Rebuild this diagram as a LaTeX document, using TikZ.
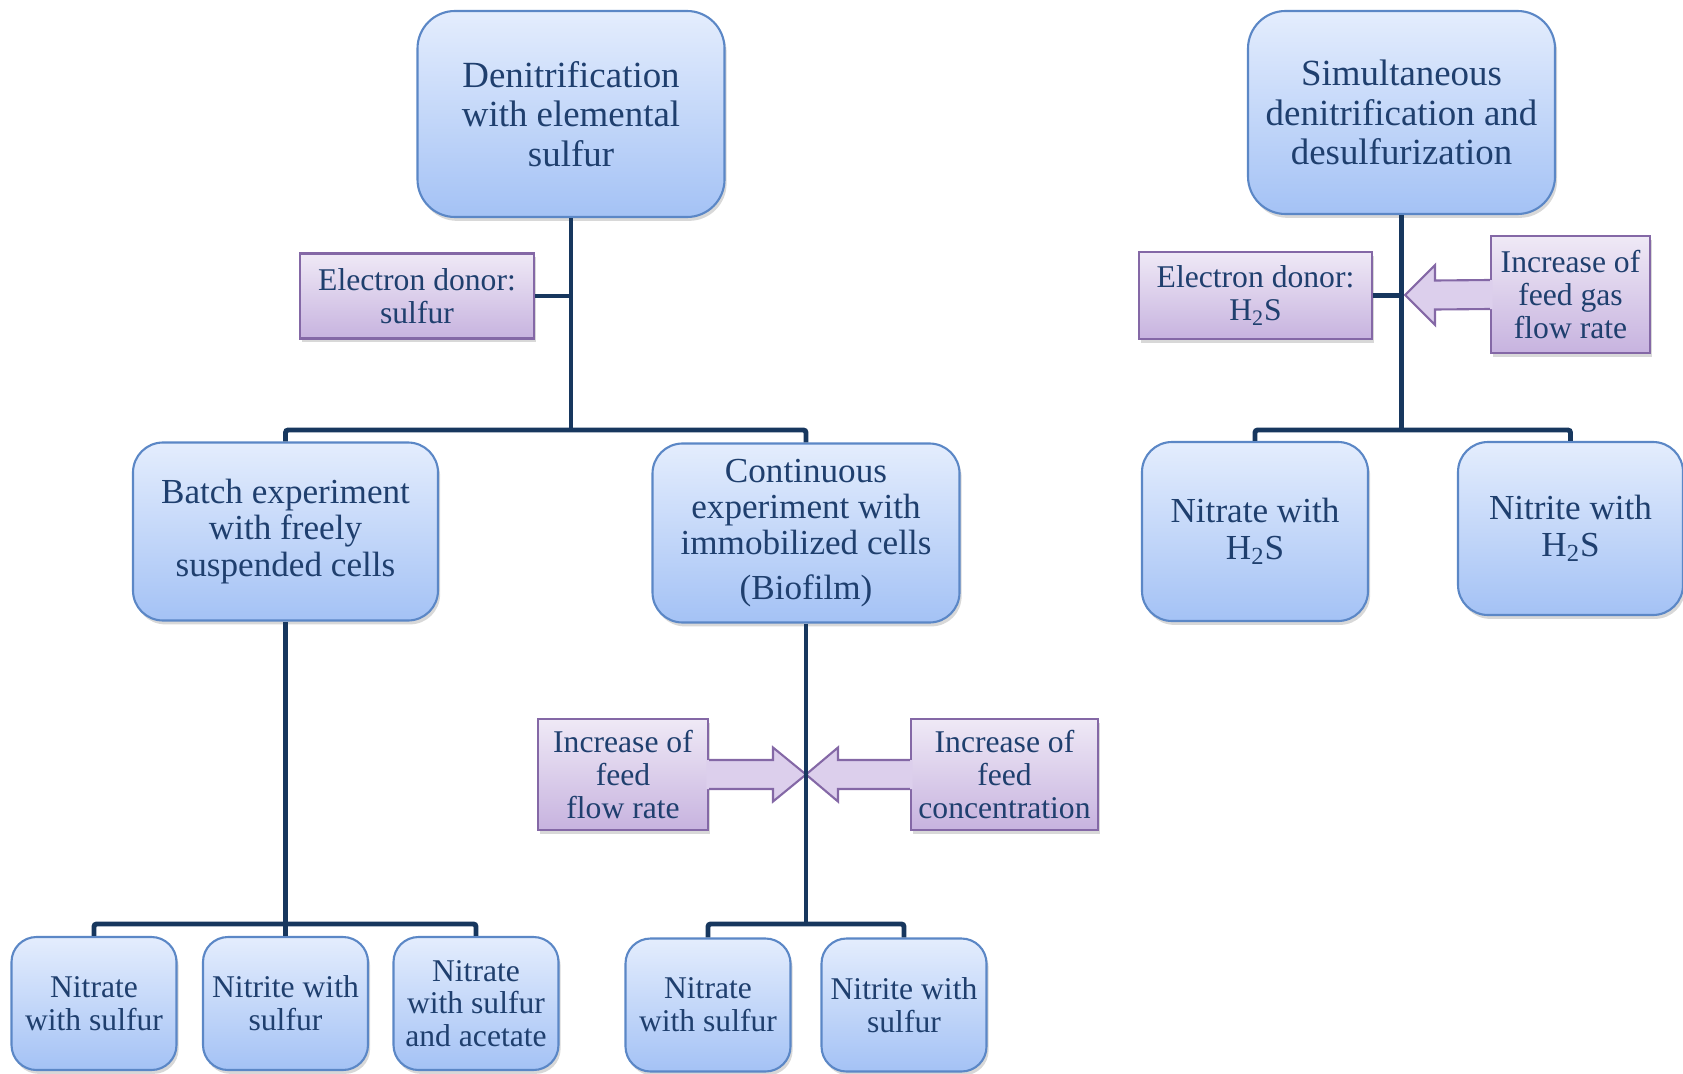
\documentclass[tikz,border=0pt]{standalone}
\usepackage{fontspec}
\setmainfont{Liberation Serif}
\usepackage{tikz}
\usetikzlibrary{shadows}
\definecolor{boxtop}{HTML}{E4EDFD}
\definecolor{boxbot}{HTML}{A4C2F5}
\definecolor{boxline}{HTML}{5B87C6}
\definecolor{notetop}{HTML}{EFE9F6}
\definecolor{notebot}{HTML}{C7B3DF}
\definecolor{notemid}{HTML}{DCCFEC}
\definecolor{noteline}{HTML}{8468A6}
\definecolor{txtblue}{HTML}{1F3F6E}
\definecolor{linkblue}{HTML}{17375E}
\tikzset{
    softshadow/.style = {drop shadow={shadow xshift=1.2pt,shadow yshift=-2.2pt,opacity=0.22,fill=black!70}},
    headnode/.style = {rectangle, rounded corners=0.75cm, draw=boxline, line width=1.2pt, top color=boxtop, bottom color=boxbot, text=txtblue, align=center, inner sep=0pt, minimum width=6.14cm, minimum height=4.12cm, font=\fontsize{21}{22.5}\selectfont, softshadow},
    midnode/.style = {headnode, rounded corners=0.6cm, minimum width=6.1cm, minimum height=3.56cm, font=\fontsize{20}{20.6}\selectfont},
    leafnode/.style = {headnode, rounded corners=0.5cm, minimum width=3.3cm, minimum height=2.66cm, font=\fontsize{18}{18.6}\selectfont},
    notenode/.style = {rectangle, draw=noteline, line width=1.2pt, top color=notetop, bottom color=notebot, text=txtblue, align=center, inner sep=0pt, font=\fontsize{18}{18.8}\selectfont, softshadow},
    edgel/.style = {line width=2.8pt, draw=linkblue, rounded corners=1.5pt},
    arrowfill/.style = {fill=notemid},
    arrowline/.style = {draw=noteline, line width=1.2pt, line join=miter},
}

\begin{document}
\begin{tikzpicture}
\useasboundingbox (0,0) rectangle (33.66,-21.48);
% left tree
\node[headnode] at (11.42,-2.28) (top) {Denitrification\\with elemental\\sulfur};
\node[notenode, minimum width=4.68cm, minimum height=1.70cm] at (8.34,-5.92) (donor1) {Electron donor:\\sulfur};
\node[midnode] at (5.71,-10.63) (batch) {Batch experiment\\with freely\\suspended cells};
\node[midnode, minimum width=6.14cm, minimum height=3.58cm] at (16.12,-10.66) (cont) {Continuous\\experiment with\\immobilized cells\\[5pt](Biofilm)};
\node[notenode, minimum width=3.40cm, minimum height=2.22cm] at (12.46,-15.49) (flow) {Increase of\\feed\\flow rate};
\node[notenode, minimum width=3.74cm, minimum height=2.22cm] at (20.09,-15.49) (conc) {Increase of\\feed\\concentration};
\node[leafnode] at (1.88,-20.07) (n1) {Nitrate\\with sulfur};
\node[leafnode] at (5.71,-20.07) (n2) {Nitrite with\\sulfur};
\node[leafnode] at (9.52,-20.07) (n3) {Nitrate\\with sulfur\\and acetate};
\node[leafnode] at (14.16,-20.10) (n4) {Nitrate\\with sulfur};
\node[leafnode] at (18.08,-20.10) (n5) {Nitrite with\\sulfur};
% right tree
\node[headnode, minimum height=4.06cm] at (28.03,-2.25) (simul) {Simultaneous\\denitrification and\\desulfurization};
\node[notenode, minimum width=4.66cm, minimum height=1.74cm] at (25.11,-5.91) (donor2) {Electron donor:\\H\textsubscript{2}S};
\node[notenode, minimum width=3.18cm, minimum height=2.34cm] at (31.41,-5.89) (gas) {Increase of\\feed gas\\flow rate};
\node[midnode, minimum width=4.52cm, minimum height=3.58cm] at (25.10,-10.63) (h1) {Nitrate with\\H\textsubscript{2}S};
\node[midnode, minimum width=4.50cm, minimum height=3.46cm] at (31.41,-10.57) (h2) {Nitrite with\\H\textsubscript{2}S};
%
\coordinate (j1) at (11.42,-8.60);
\coordinate (j2) at (5.71,-18.48);
\coordinate (j3) at (16.12,-18.48);
\coordinate (j4) at (28.03,-8.60);
\coordinate (t1) at (16.12,-15.49);
\coordinate (t2) at (28.10,-5.90);
% fat arrows
\fill[arrowfill] ([xshift=-1.5pt,yshift=2.9mm]flow.east) -- (15.46,-15.20) -- (15.46,-14.95) -- (t1) -- (15.46,-16.03) -- (15.46,-15.78) -- ([xshift=-1.5pt,yshift=-2.9mm]flow.east) -- cycle;
\draw[arrowline] ([yshift=2.9mm]flow.east) -- (15.46,-15.20) -- (15.46,-14.95) -- (t1) -- (15.46,-16.03) -- (15.46,-15.78) -- ([yshift=-2.9mm]flow.east);
\fill[arrowfill] ([xshift=1.5pt,yshift=2.9mm]conc.west) -- (16.76,-15.20) -- (16.76,-14.95) -- (t1) -- (16.76,-16.03) -- (16.76,-15.78) -- ([xshift=1.5pt,yshift=-2.9mm]conc.west) -- cycle;
\draw[arrowline] ([yshift=2.9mm]conc.west) -- (16.76,-15.20) -- (16.76,-14.95) -- (t1) -- (16.76,-16.03) -- (16.76,-15.78) -- ([yshift=-2.9mm]conc.west);
\fill[arrowfill] ([xshift=1.5pt,yshift=2.9mm]gas.west) -- (28.70,-5.61) -- (28.70,-5.30) -- (t2) -- (28.70,-6.50) -- (28.70,-6.19) -- ([xshift=1.5pt,yshift=-2.9mm]gas.west) -- cycle;
\draw[arrowline] ([yshift=2.9mm]gas.west) -- (28.70,-5.61) -- (28.70,-5.30) -- (t2) -- (28.70,-6.50) -- (28.70,-6.19) -- ([yshift=-2.9mm]gas.west);
% links
\draw[edgel] (top.south) -- (j1);
\draw[edgel] (batch.north) |- (j1) -| (cont.north);
\draw[edgel] (donor1.east) -- (donor1.east -| j1);
\draw[edgel] (batch.south) -- (j2);
\draw[edgel] (n1.north) |- (j2) -| (n3.north);
\draw[edgel] (n2.north) -- (j2);
\draw[edgel] (cont.south) -- (j3);
\draw[edgel] (n4.north) |- (j3) -| (n5.north);
\draw[edgel] (simul.south) -- (j4);
\draw[edgel] (h1.north) |- (j4) -| (h2.north);
\draw[edgel] (donor2.east) -- (donor2.east -| j4);

\end{tikzpicture}
\end{document}
